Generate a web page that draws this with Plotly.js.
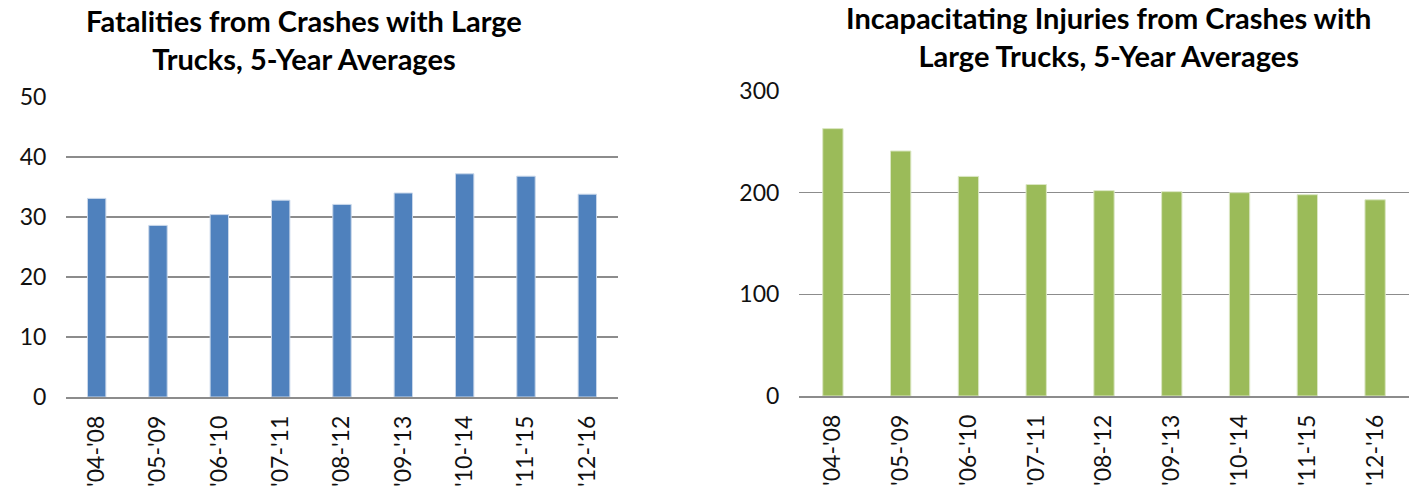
<!DOCTYPE html>
<html><head><meta charset="utf-8">
<script src="https://cdn.plot.ly/plotly-3.0.1.min.js"></script>
<style>html,body{margin:0;padding:0;background:#fff;}#chart{width:1418px;height:497px;}</style>
</head><body><div id="chart"></div>
<script>
const categories = ["'04-'08","'05-'09","'06-'10","'07-'11","'08-'12","'09-'13","'10-'14","'11-'15","'12-'16"];
const fatalities = [33.1, 28.6, 30.4, 32.8, 32.1, 34.0, 37.2, 36.8, 33.8];
const injuries = [263, 241, 216, 208, 202, 201, 200, 198, 193];
const leftTicks = [0, 10, 20, 30, 40, 50];
const rightTicks = [0, 100, 200, 300];

const tickFont = {family: 'Lato, "Open Sans", sans-serif', size: 23, color: '#111'};
const titleFont = {family: 'Lato, "Open Sans", sans-serif', size: 29, color: '#000'};

const data = [
  {type: 'bar', x: categories, y: fatalities, xaxis: 'x', yaxis: 'y',
   marker: {color: '#4F81BD', line: {color: '#c9d7ea', width: 1}}, hoverinfo: 'none'},
  {type: 'bar', x: categories, y: injuries, xaxis: 'x2', yaxis: 'y2',
   marker: {color: '#9BBB59', line: {color: '#dbe7c4', width: 1}}, hoverinfo: 'none'}
];

const xcommon = {type: 'category', tickangle: -90, tickfont: tickFont, showgrid: false,
  zeroline: false, showline: true, linecolor: '#8c8c8c', linewidth: 1.5,
  ticks: 'outside', ticklen: 8, tickcolor: 'rgba(0,0,0,0)', fixedrange: true};
const ycommon = {tickfont: tickFont, showgrid: true, gridcolor: '#8c8c8c', gridwidth: 1.3,
  zeroline: false, showline: false, ticks: 'outside', ticklen: 14, tickcolor: 'rgba(0,0,0,0)', fixedrange: true};

const layout = {
  width: 1418, height: 497,
  margin: {l: 0, r: 0, t: 0, b: 0},
  paper_bgcolor: '#fff', plot_bgcolor: '#fff',
  showlegend: false, bargap: 0.7,
  xaxis: Object.assign({}, xcommon, {domain: [66/1418, 618/1418], anchor: 'y'}),
  yaxis: Object.assign({}, ycommon, {domain: [100/497, 400/497], range: [0, 50], tickvals: leftTicks, anchor: 'x'}),
  xaxis2: Object.assign({}, xcommon, {domain: [799/1418, 1409/1418], anchor: 'y2'}),
  yaxis2: Object.assign({}, ycommon, {domain: [101/497, 406/497], range: [0, 300], tickvals: rightTicks, anchor: 'x2'}),
  annotations: [
    {text: '<b>Fatalities from Crashes with Large<br>Trucks, 5-Year Averages</b>', xref: 'paper', yref: 'paper',
     x: 304/1418, y: 1 - 1/497, xanchor: 'center', yanchor: 'top', showarrow: false, font: titleFont, align: 'center'},
    {text: '<b>Incapacitating Injuries from Crashes with<br>Large Trucks, 5-Year Averages</b>', xref: 'paper', yref: 'paper',
     x: 1108/1418, y: 1 + 2/497, xanchor: 'center', yanchor: 'top', showarrow: false, font: titleFont, align: 'center'}
  ]
};

Plotly.newPlot('chart', data, layout, {displayModeBar: false, staticPlot: true});
</script>
</body></html>
